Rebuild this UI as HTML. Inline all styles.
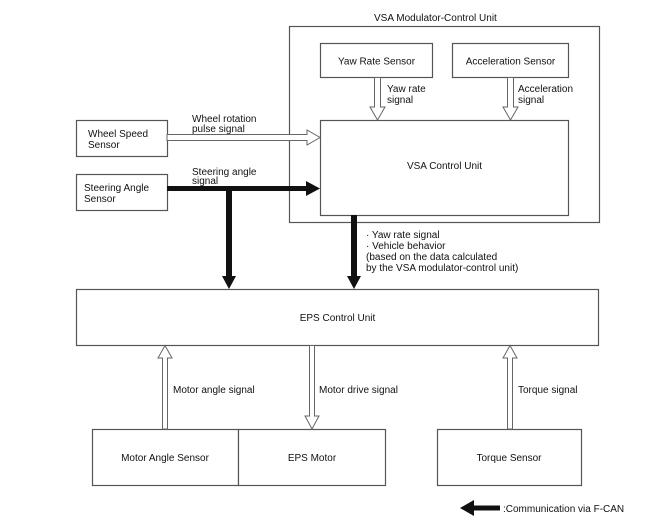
<!DOCTYPE html>
<html><head><meta charset="utf-8"><style>
html,body{margin:0;padding:0;background:#fff}
svg{display:block}
text{font-family:"Liberation Sans",Arial,sans-serif;font-size:10px;fill:#111}
</style></head><body>
<svg width="658" height="530" viewBox="0 0 658 530" xmlns="http://www.w3.org/2000/svg">
<g fill="#fff" stroke="#555" stroke-width="1.2">
<rect x="289.5" y="26.5" width="310" height="196"/>
<rect x="320.5" y="43.5" width="112" height="34"/>
<rect x="452.5" y="43.5" width="116" height="34"/>
<rect x="320.5" y="120.5" width="248" height="95"/>
<rect x="76.5" y="120.5" width="91" height="36"/>
<rect x="76.5" y="174.5" width="91" height="36"/>
<rect x="76.5" y="289.5" width="522" height="56"/>
<rect x="92.5" y="429.5" width="146" height="56"/>
<rect x="238.5" y="429.5" width="147" height="56"/>
<rect x="437.5" y="429.5" width="144" height="56"/>
</g>
<g fill="#fff" stroke="#666" stroke-width="1">
<path d="M167,134.5 H307 V130 L320,137.5 L307,145 V140.5 H167 Z"/>
<path d="M374.5,77.5 V107 H370 L377.5,120 L385,107 H380.5 V77.5 Z"/>
<path d="M507.5,77.5 V107 H503 L510.5,120 L518,107 H513.5 V77.5 Z"/>
<path d="M162.5,429 V358 H158 L165,345.5 L172,358 H167.5 V429 Z"/>
<path d="M309.5,345.5 V416 H305 L312,429 L319,416 H314.5 V345.5 Z"/>
<path d="M507.5,429 V358 H503 L510,345.5 L517,358 H512.5 V429 Z"/>
</g>
<g fill="#111">
<path d="M167,186 H306 V181 L320,188.5 L306,196 V191 H167 Z"/>
<path d="M226,186 H232 V276 H236 L229,289 L222,276 H226 Z"/>
<path d="M351,215 H357 V276 H361 L354,289 L347,276 H351 Z"/>
<path d="M500,505.5 H474 V500 L460,508 L474,516 V510.5 H500 Z"/>
</g>
<text x="374" y="21">VSA Modulator-Control Unit</text>
<text x="376.5" y="64.5" text-anchor="middle">Yaw Rate Sensor</text>
<text x="510.5" y="64.5" text-anchor="middle">Acceleration Sensor</text>
<text x="387" y="92">Yaw rate</text><text x="387" y="103">signal</text>
<text x="518" y="92">Acceleration</text><text x="518" y="103">signal</text>
<text x="444.5" y="169" text-anchor="middle">VSA Control Unit</text>
<text x="88" y="137">Wheel Speed</text><text x="88" y="148">Sensor</text>
<text x="84" y="191">Steering Angle</text><text x="84" y="202">Sensor</text>
<text x="192" y="122">Wheel rotation</text><text x="192" y="132">pulse signal</text>
<text x="192" y="175">Steering angle</text><text x="192" y="184">signal</text>
<text x="366" y="238">· Yaw rate signal</text>
<text x="366" y="249">· Vehicle behavior</text>
<text x="366" y="260">(based on the data calculated</text>
<text x="366" y="271">by the VSA modulator-control unit)</text>
<text x="337.5" y="321" text-anchor="middle">EPS Control Unit</text>
<text x="173" y="393">Motor angle signal</text>
<text x="319" y="393">Motor drive signal</text>
<text x="518" y="393">Torque signal</text>
<text x="165" y="461" text-anchor="middle">Motor Angle Sensor</text>
<text x="312" y="461" text-anchor="middle">EPS Motor</text>
<text x="509" y="461" text-anchor="middle">Torque Sensor</text>
<text x="503" y="512">:Communication via F-CAN</text>
</svg>
</body></html>
